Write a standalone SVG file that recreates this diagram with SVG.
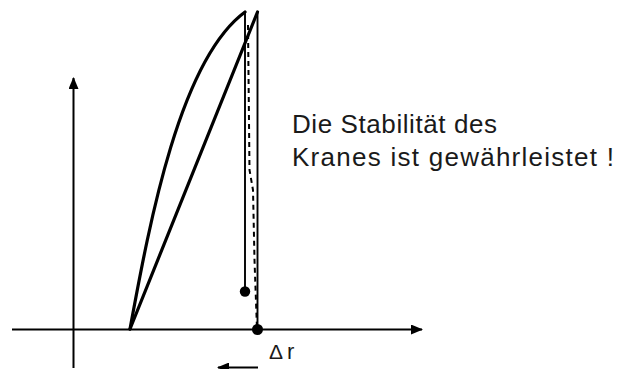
<svg xmlns="http://www.w3.org/2000/svg" width="622" height="369" viewBox="0 0 622 369">
<style>
.ax{stroke:#000;stroke-width:2;fill:none}
.thick{stroke:#000;stroke-width:3.2;fill:none;stroke-linecap:round;stroke-linejoin:round}
.thin{stroke:#000;stroke-width:1.9;fill:none}
.dash{stroke:#000;stroke-width:2;fill:none;stroke-dasharray:5 4}
.t{font-family:"Liberation Sans",Arial,sans-serif;fill:#1a1a1a}
</style>
<defs>
<marker id="ah" viewBox="0 0 12 10" refX="11" refY="5" markerWidth="12" markerHeight="10" markerUnits="userSpaceOnUse" orient="auto">
<path d="M0,0 L12,5 L0,10 Z" fill="#000"/>
</marker>
</defs>
<g id="connectors">
<line class="ax" x1="12" y1="329.5" x2="422" y2="329.5" marker-end="url(#ah)"/>
<line class="ax" x1="73.5" y1="368" x2="73.5" y2="78" marker-end="url(#ah)"/>
<line class="ax" x1="258" y1="367.5" x2="218" y2="367.5" marker-end="url(#ah)"/>
</g>
<g id="curve">
<path class="thick" d="M130,329 C150,220 180,60 245,12"/>
</g>
<g id="straight">
<path class="thick" d="M130,329 L257.5,12"/>
</g>
<g id="verticals">
<line class="thin" x1="245" y1="12" x2="245" y2="291"/>
<line class="thin" x1="257.5" y1="12" x2="257.5" y2="329"/>
<polyline class="dash" points="248,25 249.5,170 253,190 254.5,260 257,329"/>
<circle cx="245" cy="291.5" r="5.2" fill="#000"/>
<circle cx="257.5" cy="329.5" r="5.5" fill="#000"/>
</g>
<g id="label">
<text class="t" x="292" y="133" font-size="26" textLength="205" lengthAdjust="spacing">Die Stabilität des</text>
<text class="t" x="292" y="166" font-size="26" textLength="322" lengthAdjust="spacing">Kranes ist gewährleistet !</text>
<text class="t" x="269" y="359" font-size="21">Δ<tspan x="287" font-size="22">r</tspan></text>
</g>
</svg>
